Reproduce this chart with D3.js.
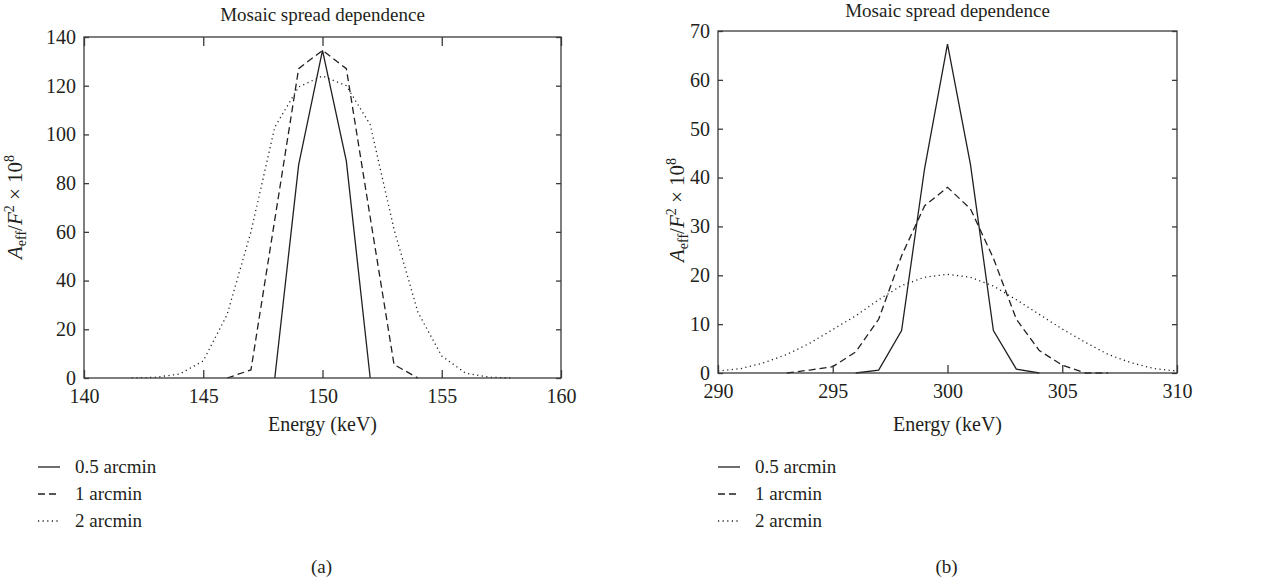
<!DOCTYPE html>
<html>
<head>
<meta charset="utf-8">
<script src="https://cdn.jsdelivr.net/npm/d3@7"></script>
<style>
  html, body { margin: 0; padding: 0; background: #fff; }
  svg { display: block; }
  text { font-family: "Liberation Serif", "DejaVu Serif", serif; fill: #231f20; }
</style>
</head>
<body>
<svg id="chart" width="1283" height="577"></svg>
<script>
// ---- data -------------------------------------------------------------
const titleText = "Mosaic spread dependence";
const xLabelText = "Energy (keV)";
const seriesNames = ["0.5 arcmin", "1 arcmin", "2 arcmin"];
const panelTags = ["(a)", "(b)"];

const xTicksA = [140, 145, 150, 155, 160];
const yTicksA = [0, 20, 40, 60, 80, 100, 120, 140];
const xTicksB = [290, 295, 300, 305, 310];
const yTicksB = [0, 10, 20, 30, 40, 50, 60, 70];

// panel (a): line centred at 150 keV
const energyA05 = [148, 149, 150, 151, 152];
const aeffA05 = [0, 87.5, 134.5, 89, 0];
const energyA1 = [146, 147, 148, 149, 150, 151, 152, 153, 154];
const aeffA1 = [0, 3.3, 65, 127, 134.5, 127, 66, 5.5, 0];
const energyA2 = [142, 143, 144, 145, 146, 147, 148, 149, 150, 151, 152, 153, 154, 155, 156, 157, 158];
const aeffA2 = [0, 0.3, 1.6, 7, 26, 60, 103, 119.5, 124, 120, 104, 61, 27, 9, 2, 0.3, 0];

// panel (b): line centred at 300 keV
const energyB05 = [296, 297, 298, 299, 300, 301, 302, 303, 304];
const aeffB05 = [0, 0.6, 8.7, 41.8, 67.3, 42.7, 8.7, 0.8, 0];
const energyB1 = [293, 294, 295, 296, 297, 298, 299, 300, 301, 302, 303, 304, 305, 306, 307];
const aeffB1 = [0, 0.6, 1.3, 4.3, 11, 24, 34.2, 38, 33.6, 23.5, 11, 4.6, 1.6, 0, 0];
const energyB2 = [290, 291, 292, 293, 294, 295, 296, 297, 298, 299, 300, 301, 302, 303, 304, 305, 306, 307, 308, 309, 310];
const aeffB2 = [0.4, 0.9, 2.1, 3.8, 6.1, 8.9, 11.7, 15.0, 17.9, 19.6, 20.2, 19.6, 17.8, 15.0, 12.0, 9.0, 6.3, 3.8, 2.1, 0.9, 0.4];

// ---- styling ----------------------------------------------------------
const ink = "#231f20";
const frameInk = "#3a3a3a";
const dashes = [null, "7,4", "1.2,3.4"];

const panels = [
  {
    box: { left: 84, right: 561, top: 37, bottom: 378 },
    xDomain: [140, 160], yDomain: [0, 140],
    xTicks: xTicksA, yTicks: yTicksA, topTicks: true,
    titleY: 21,
    series: [[energyA05, aeffA05], [energyA1, aeffA1], [energyA2, aeffA2]],
    yLabelX: 22, yLabelY: 207, legendX: 38, tag: panelTags[0]
  },
  {
    box: { left: 718, right: 1177, top: 31, bottom: 373 },
    xDomain: [290, 310], yDomain: [0, 70],
    xTicks: xTicksB, yTicks: yTicksB, topTicks: false,
    titleY: 17,
    series: [[energyB05, aeffB05], [energyB1, aeffB1], [energyB2, aeffB2]],
    yLabelX: 684, yLabelY: 210, legendX: 718, tag: panelTags[1]
  }
];

const svg = d3.select("#chart");

panels.forEach(p => {
  const b = p.box;
  const x = d3.scaleLinear().domain(p.xDomain).range([b.left, b.right]);
  const y = d3.scaleLinear().domain(p.yDomain).range([b.bottom, b.top]);
  const cx = (b.left + b.right) / 2;
  const g = svg.append("g");

  // title
  g.append("text").attr("x", cx).attr("y", p.titleY)
    .attr("text-anchor", "middle").attr("font-size", 19).text(titleText);

  // data lines
  const line = d3.line().x(d => x(d[0])).y(d => y(d[1]));
  p.series.forEach((s, i) => {
    const pts = s[0].map((e, k) => [e, s[1][k]]);
    g.append("path").datum(pts)
      .attr("d", line)
      .attr("fill", "none")
      .attr("stroke", ink)
      .attr("stroke-width", 1.3)
      .attr("stroke-dasharray", dashes[i]);
  });

  // axes with inward ticks
  const styleAxis = sel => {
    sel.select(".domain").remove();
    sel.selectAll(".tick line").attr("stroke", frameInk).attr("stroke-width", 1.3);
    sel.selectAll(".tick text").attr("fill", ink)
      .attr("font-family", "Liberation Serif, serif").attr("font-size", 20);
  };
  g.append("g").attr("transform", `translate(0,${b.bottom})`)
    .call(d3.axisBottom(x).tickValues(p.xTicks).tickSize(-8).tickPadding(11).tickFormat(d3.format("d")))
    .call(styleAxis);
  if (p.topTicks) {
    g.append("g").attr("transform", `translate(0,${b.top})`)
      .call(d3.axisTop(x).tickValues(p.xTicks).tickSize(-9).tickFormat(""))
      .call(styleAxis);
  }
  g.append("g").attr("transform", `translate(${b.left},0)`)
    .call(d3.axisLeft(y).tickValues(p.yTicks).tickSize(-5).tickPadding(8).tickFormat(d3.format("d")))
    .call(styleAxis);
  g.append("g").attr("transform", `translate(${b.right},0)`)
    .call(d3.axisRight(y).tickValues(p.yTicks).tickSize(-5).tickFormat(""))
    .call(styleAxis);

  // frame
  g.append("rect").attr("x", b.left).attr("y", b.top)
    .attr("width", b.right - b.left).attr("height", b.bottom - b.top)
    .attr("fill", "none").attr("stroke", frameInk).attr("stroke-width", 1.3);

  // x label
  g.append("text").attr("x", cx).attr("y", 431)
    .attr("text-anchor", "middle").attr("font-size", 20).text(xLabelText);

  // y label: A_eff / F^2 x 10^8
  const yl = g.append("text")
    .attr("transform", `translate(${p.yLabelX},${p.yLabelY}) rotate(-90)`)
    .attr("text-anchor", "middle").attr("font-size", 21);
  yl.append("tspan").attr("font-style", "italic").text("A");
  yl.append("tspan").attr("font-size", 14).attr("dy", 4).text("eff");
  yl.append("tspan").attr("dy", -4).text("/");
  yl.append("tspan").attr("font-style", "italic").text("F");
  yl.append("tspan").attr("font-size", 14).attr("dy", -8).text("2");
  yl.append("tspan").attr("dy", 8).text(" \u00d7 10");
  yl.append("tspan").attr("font-size", 14).attr("dy", -8).text("8");

  // legend
  const rowY = [473, 500, 527];
  seriesNames.forEach((name, i) => {
    g.append("line")
      .attr("x1", p.legendX).attr("x2", p.legendX + 22)
      .attr("y1", rowY[i] - 6).attr("y2", rowY[i] - 6)
      .attr("stroke", ink).attr("stroke-width", 1.3)
      .attr("stroke-dasharray", dashes[i]);
    g.append("text").attr("x", p.legendX + 37).attr("y", rowY[i])
      .attr("font-size", 19).text(name);
  });

  // panel tag
  g.append("text").attr("x", cx - 1).attr("y", 573)
    .attr("text-anchor", "middle").attr("font-size", 19).text(p.tag);
});
</script>
</body>
</html>
